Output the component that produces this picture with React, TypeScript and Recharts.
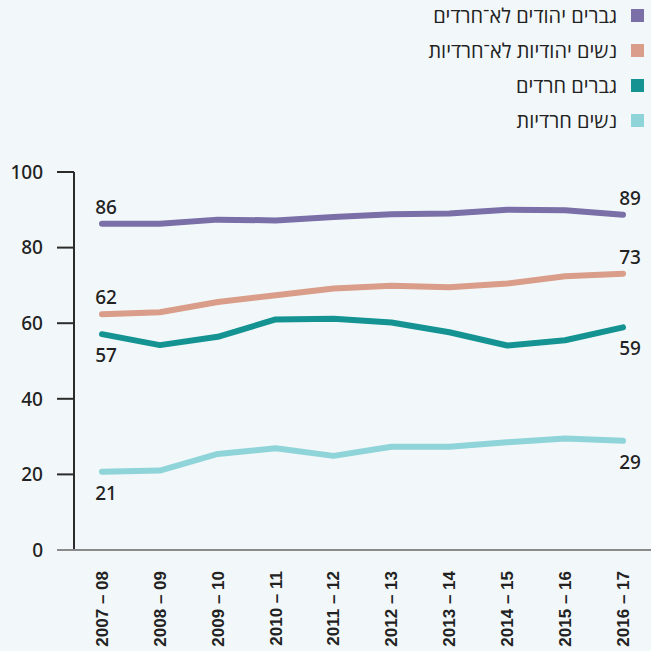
import { LineChart, Line, XAxis, YAxis, ReferenceLine, LabelList } from 'recharts';

const years = ['2007 – 08', '2008 – 09', '2009 – 10', '2010 – 11', '2011 – 12', '2012 – 13', '2013 – 14', '2014 – 15', '2015 – 16', '2016 – 17'];

const nonHarediMen = [86.3, 86.3, 87.4, 87.2, 88.1, 88.8, 89.0, 90.0, 89.9, 88.7];
const nonHarediWomen = [62.4, 62.9, 65.6, 67.4, 69.2, 69.9, 69.5, 70.5, 72.4, 73.1];
const harediMen = [57.1, 54.2, 56.4, 61.0, 61.2, 60.2, 57.6, 54.1, 55.5, 58.9];
const harediWomen = [20.7, 21.0, 25.4, 26.9, 24.9, 27.3, 27.3, 28.5, 29.5, 28.9];

const yTicks = [0, 20, 40, 60, 80, 100];

interface Series {
  key: string;
  label: string;
  color: string;
  values: number[];
  first: string;
  last: string;
  below: boolean;
}

const series: Series[] = [
  { key: 'nhm', label: 'גברים יהודים לא־חרדים', color: '#7a6fa7', values: nonHarediMen, first: '86', last: '89', below: false },
  { key: 'nhw', label: 'נשים יהודיות לא־חרדיות', color: '#d99d89', values: nonHarediWomen, first: '62', last: '73', below: false },
  { key: 'hm', label: 'גברים חרדים', color: '#149392', values: harediMen, first: '57', last: '59', below: true },
  { key: 'hw', label: 'נשים חרדיות', color: '#8fd4d9', values: harediWomen, first: '21', last: '29', below: true },
];

const data = years.map((year, i) => {
  const row: Record<string, string | number> = { year };
  series.forEach((s) => {
    row[s.key] = s.values[i];
  });
  return row;
});

const BG = '#f2f8fa';
const INK = '#222222';
const NUM_FONT = '"Noto Sans", "DejaVu Sans", sans-serif';
const AXIS_FONT = '"Liberation Sans", Arial, sans-serif';
const HEB_FONT = '"Open Sans", "DejaVu Sans", sans-serif';

function YTick(props: any) {
  const { x, y, payload } = props;
  return (
    <g>
      {payload.value === 0 && <line x1={x + 14} x2={x + 32} y1={y} y2={y} stroke="#8a8a8a" strokeWidth={2} />}
      <text x={x} y={y} dy="0.36em" textAnchor="end" fill={INK} fontSize={19} fontWeight={500} fontFamily={NUM_FONT}>
        {payload.value}
      </text>
    </g>
  );
}

function XTick(props: any) {
  const { x, y, payload } = props;
  return (
    <text
      x={x}
      y={y}
      dy="0.35em"
      textAnchor="end"
      transform={`rotate(-90, ${x}, ${y})`}
      fill={INK}
      fontSize={17}
      fontWeight={700}
      fontFamily={AXIS_FONT}
    >
      {payload.value}
    </text>
  );
}

function endLabel(s: Series) {
  return (props: any) => {
    const { x, y, index } = props;
    if (index !== 0 && index !== years.length - 1) return null;
    const text = index === 0 ? s.first : s.last;
    const dx = index === 0 ? 4 : 7;
    return (
      <text
        x={x + dx}
        y={y + (s.below ? 21 : -17)}
        dy="0.36em"
        textAnchor="middle"
        fill={INK}
        fontSize={19}
        fontWeight={500}
        fontFamily={NUM_FONT}
      >
        {text}
      </text>
    );
  };
}

export default function App() {
  return (
    <div style={{ position: 'absolute', left: 0, top: 0, width: 651, height: 651, background: BG }}>
      <div style={{ position: 'absolute', top: 0, right: 7, zIndex: 2 }}>
        {series.map((s) => (
          <div
            key={s.key}
            style={{
              display: 'flex',
              alignItems: 'center',
              justifyContent: 'flex-end',
              height: 35,
              marginTop: s.key === 'nhm' ? -2 : 0,
            }}
          >
            <span dir="rtl" style={{ fontFamily: HEB_FONT, fontSize: 20, color: INK, marginRight: 14 }}>
              {s.label}
            </span>
            <span style={{ width: 13, height: 13, background: s.color, display: 'inline-block' }} />
          </div>
        ))}
      </div>
      <LineChart width={651} height={651} data={data} margin={{ top: 172, right: 0, bottom: 0, left: 0 }}>
        <XAxis
          dataKey="year"
          interval={0}
          height={101}
          axisLine={{ stroke: '#8a8a8a', strokeWidth: 2 }}
          tickLine={false}
          tickMargin={15}
          tick={<XTick />}
          padding={{ left: 28, right: 28 }}
        />
        <YAxis
          domain={[0, 100]}
          ticks={yTicks}
          width={74}
          axisLine={{ stroke: '#2b2b2b', strokeWidth: 2 }}
          tickLine={{ stroke: '#2b2b2b', strokeWidth: 2 }}
          tickSize={17}
          tickMargin={14}
          tick={<YTick />}
        />
        <ReferenceLine y={0} stroke="#8a8a8a" strokeWidth={2} />
        {series.map((s) => (
          <Line
            key={s.key}
            dataKey={s.key}
            type="linear"
            stroke={s.color}
            strokeWidth={6}
            strokeLinecap="round"
            strokeLinejoin="round"
            dot={false}
            isAnimationActive={false}
          >
            <LabelList dataKey={s.key} content={endLabel(s)} />
          </Line>
        ))}
      </LineChart>
    </div>
  );
}
